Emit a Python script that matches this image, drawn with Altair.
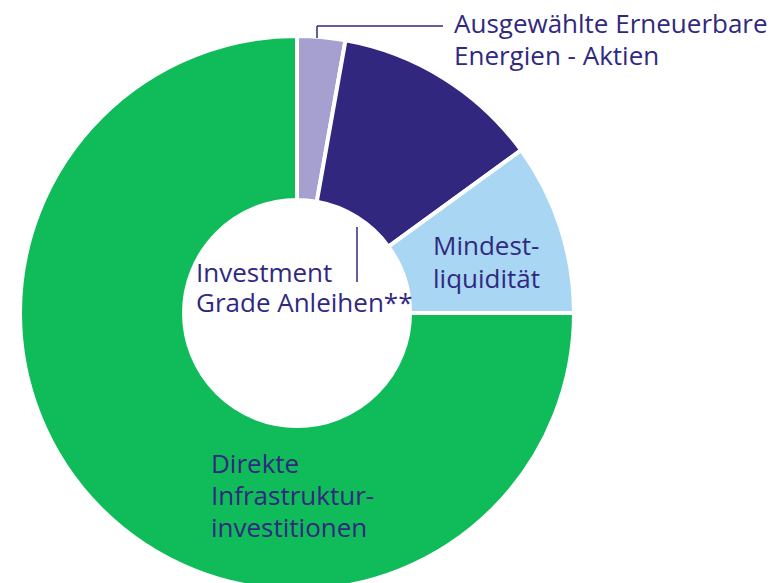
import altair as alt
import pandas as pd

# data
categories = [
    "Ausgewählte Erneuerbare Energien - Aktien",
    "Investment Grade Anleihen**",
    "Mindestliquidität",
    "Direkte Infrastrukturinvestitionen",
]
shares = [2.8, 12.2, 10.0, 75.0]
order = [1, 2, 3, 4]
colors = ["#a5a0d0", "#31277f", "#a9d6f3", "#10bb5a"]

label_lines = [
    ["Ausgewählte Erneuerbare", "Energien - Aktien"],
    ["Investment", "Grade Anleihen**"],
    ["Mindest-", "liquidität"],
    ["Direkte", "Infrastruktur-", "investitionen"],
]

df = pd.DataFrame({"category": categories, "share": shares, "order": order})

TEXT = "#30297f"
FONT = "Open Sans"
FS = 26

# layout (chart coords)
CX, CY = 289, 305
R_OUT, R_IN = 277, 113
label_pos = [(446, 25, 32), (188, 274, 30), (425, 247, 33), (203, 465, 32)]

donut = alt.Chart(df).mark_arc(
    outerRadius=R_OUT, innerRadius=R_IN, stroke="white", strokeWidth=4
).encode(
    theta=alt.Theta("share:Q", stack=True),
    order=alt.Order("order:Q"),
    color=alt.Color("category:N", scale=alt.Scale(domain=categories, range=colors), legend=None),
    x=alt.value(CX),
    y=alt.value(CY),
)

layers = [donut]
for lines, (lx, ly, lh) in zip(label_lines, label_pos):
    for i, line in enumerate(lines):
        layers.append(
            alt.Chart(pd.DataFrame({"t": [line]})).mark_text(
                align="left", baseline="alphabetic", font=FONT, fontSize=FS,
                color=TEXT,
            ).encode(text="t:N", x=alt.value(lx), y=alt.value(ly + i * lh))
        )

one = pd.DataFrame({"a": [0]})
leaders = [
    (309, 309, 18, 30),
    (309, 435, 18, 18),
    (349, 349, 219, 274),
]
for x1, x2, y1, y2 in leaders:
    layers.append(
        alt.Chart(one).mark_rule(color=TEXT, strokeWidth=1.5).encode(
            x=alt.value(x1), x2=alt.value(x2), y=alt.value(y1), y2=alt.value(y2)
        )
    )

chart = alt.layer(*layers).properties(
    width=766, height=575, padding=0, autosize=alt.AutoSizeParams(type="none")
).configure_view(stroke=None)

chart.save("out.html", embed_options={"renderer": "svg", "actions": False})
